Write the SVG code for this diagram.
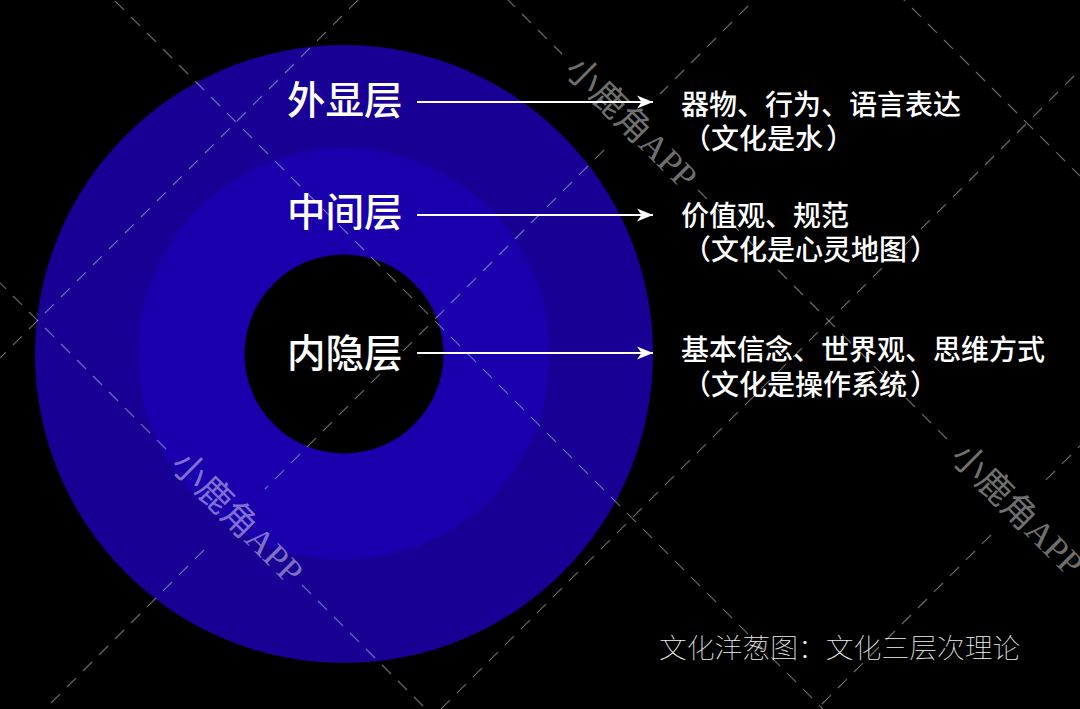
<svg xmlns="http://www.w3.org/2000/svg" width="1080" height="709" viewBox="0 0 1080 709">
<style>
text{text-spacing-trim:space-all;font-feature-settings:"chws" 0,"palt" 0}
.lbl{font-family:"Noto Sans CJK SC",sans-serif;fill:#fff}
.big{font-size:38.5px;font-weight:500}
.txt{font-size:28px;font-weight:500}
.cap{font-family:"Noto Sans CJK SC",sans-serif;font-size:27.8px;font-weight:100;fill:#f0f0f0}
.wl{stroke:#fff;stroke-opacity:.42;stroke-width:1.1;stroke-dasharray:12.7 9.93;fill:none}
.wm{font-family:"Liberation Serif","Noto Sans CJK SC",serif;font-size:35px;fill:#fff;fill-opacity:.45;text-anchor:middle;dominant-baseline:central}
.arr{stroke:#fff;stroke-width:2;fill:none;marker-end:url(#head)}
</style>
<defs>
<marker id="head" markerUnits="userSpaceOnUse" markerWidth="18" markerHeight="15" refX="16" refY="7.5" orient="auto">
<path d="M0 1L16 7.5L0 14L4.5 7.5Z" fill="#fff"/>
</marker>
</defs>
<rect width="1080" height="709" fill="#000"/>
<g id="layer-outer"><circle cx="344" cy="354" r="309" fill="#180094"/></g>
<g id="layer-middle"><circle cx="344" cy="354" r="206" fill="#1a00ac"/></g>
<g id="layer-inner"><circle cx="344" cy="354" r="99.5" fill="#000"/></g>
<g id="connectors">
<line class="arr" x1="417" y1="102" x2="653" y2="102"/>
<line class="arr" x1="417" y1="215" x2="653" y2="215"/>
<line class="arr" x1="417" y1="353" x2="653" y2="353"/>
</g>
<g id="label-outer"><text class="lbl big" x="287" y="114">外显层</text></g>
<g id="label-middle"><text class="lbl big" x="287" y="226">中间层</text></g>
<g id="label-inner"><text class="lbl big" x="287" y="367">内隐层</text></g>
<g id="desc-outer">
<text class="lbl txt" x="681" y="115">器物、行为、语言表达</text>
<text class="lbl txt" x="683" y="149">（文化是水<tspan dx="3">）</tspan></text>
</g>
<g id="desc-middle">
<text class="lbl txt" x="681" y="226">价值观、规范</text>
<text class="lbl txt" x="683" y="260">（文化是心灵地图<tspan dx="3">）</tspan></text>
</g>
<g id="desc-inner">
<text class="lbl txt" x="681" y="360">基本信念、世界观、思维方式</text>
<text class="lbl txt" x="683" y="395">（文化是操作系统<tspan dx="3">）</tspan></text>
</g>
<g id="caption"><text class="cap" x="659" y="658">文化洋葱图：文化三层次理论</text></g>
<g id="watermark">
<line class="wl" x1="-3" y1="280" x2="166" y2="449"/>
<line class="wl" x1="302" y1="585" x2="426" y2="709"/>
<line class="wl" x1="99" y1="-15" x2="823" y2="709"/>
<line class="wl" x1="506" y1="-2" x2="562" y2="54"/>
<line class="wl" x1="698" y1="190" x2="950" y2="442"/>
<line class="wl" x1="896" y1="-8" x2="1080" y2="176"/>
<line class="wl" x1="358" y1="0" x2="0" y2="358"/>
<line class="wl" x1="764" y1="-10" x2="660" y2="94"/>
<line class="wl" x1="604" y1="150" x2="265" y2="489"/>
<line class="wl" x1="204" y1="550" x2="45" y2="709"/>
<line class="wl" x1="1090" y1="60" x2="441" y2="709"/>
<line class="wl" x1="1087" y1="439" x2="1046" y2="480"/>
<line class="wl" x1="991" y1="535" x2="817" y2="709"/>
<text class="wm" transform="translate(237 518) rotate(45)">小鹿角APP</text>
<text class="wm" transform="translate(631 123) rotate(45)">小鹿角APP</text>
<text class="wm" transform="translate(1017 510) rotate(45)">小鹿角APP</text>
</g>
</svg>
